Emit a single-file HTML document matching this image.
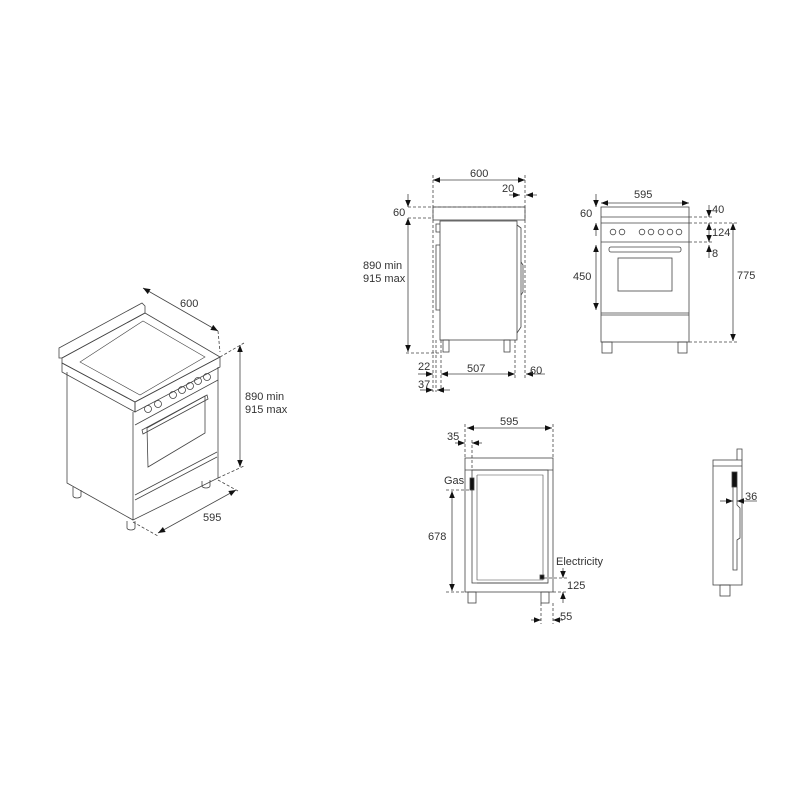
<!DOCTYPE html>
<html><head><style>html,body{margin:0;padding:0;background:#fff}svg{display:block}</style></head><body>
<svg width="800" height="800" viewBox="0 0 800 800" xmlns="http://www.w3.org/2000/svg" font-family="Liberation Sans, sans-serif" font-size="11" fill="none" stroke="#444" stroke-width="0.8">
<defs>
<marker id="a" viewBox="0 0 10 10" refX="10" refY="5" markerWidth="9" markerHeight="9" orient="auto-start-reverse"><path d="M0,1 L10,5 L0,9z" fill="#111" stroke="none"/></marker>
</defs>
<!-- Perspective -->
<g>
<polygon points="59,348 142,303 145,306 145,313 62,358 59,358" />
<polygon points="62,358 145,313 220,357 135,402 62,363"/>
<polygon points="62,363 135,402 135,412 62,372"/>
<polygon points="135,402 220,357 220,367 135,412"/>
<polygon points="80,362 143,321 205,357 140,395" stroke-width="0.6"/>
<polyline points="67,372 67,483 133,520"/>
<polyline points="133,412 133,520 218,478 218,367"/>
<line x1="135" y1="425" x2="218" y2="380"/>
<line x1="135" y1="495" x2="217" y2="452"/>
<line x1="135" y1="500" x2="217" y2="457"/>
<polygon points="147,428 205,396 205,433 148,467"/>
<polygon points="142,430 207,395 208,399 143,434"/>
<g>
<circle cx="148" cy="409" r="3.5"/><circle cx="158" cy="404" r="3.5"/><circle cx="173" cy="395" r="3.5"/><circle cx="182" cy="390" r="3.5"/><circle cx="190" cy="386" r="3.5"/><circle cx="198" cy="381" r="3.5"/><circle cx="207" cy="377" r="3.5"/>
</g>
<path d="M73,487 V496 A4,2 0 0 0 81,496 V490"/>
<path d="M127,521 V528 A4,2 0 0 0 135,528 V521"/>
<path d="M202,481 V486 A4,2 0 0 0 210,486 V480"/>
<line x1="143" y1="288" x2="218" y2="331" marker-start="url(#a)" marker-end="url(#a)"/>
<line x1="218" y1="331" x2="220" y2="352" stroke-dasharray="3,2"/>
<line x1="240" y1="345" x2="240" y2="467" marker-start="url(#a)" marker-end="url(#a)"/>
<line x1="220" y1="357" x2="244" y2="343" stroke-dasharray="3,2"/>
<line x1="218" y1="478" x2="244" y2="466" stroke-dasharray="3,2"/>
<line x1="158" y1="533" x2="236" y2="490" marker-start="url(#a)" marker-end="url(#a)"/>
<line x1="133" y1="522" x2="158" y2="536" stroke-dasharray="3,2"/>
<line x1="218" y1="480" x2="238" y2="491" stroke-dasharray="3,2"/>
</g>
<g fill="#333" stroke="none">
<text x="180" y="307">600</text>
<text x="245" y="400">890 min</text>
<text x="245" y="413">915 max</text>
<text x="203" y="521">595</text>
</g>
<!-- Side view -->
<g>
<line x1="433" y1="180" x2="525" y2="180" marker-start="url(#a)" marker-end="url(#a)"/>
<line x1="433" y1="175" x2="433" y2="392" stroke-dasharray="3,2"/>
<line x1="525" y1="175" x2="525" y2="378" stroke-dasharray="3,2"/>
<line x1="509" y1="195" x2="520" y2="195" marker-end="url(#a)"/>
<line x1="537" y1="195" x2="526" y2="195" marker-end="url(#a)"/>
<line x1="408" y1="207" x2="525" y2="207" stroke-dasharray="3,2"/>
<line x1="408" y1="218" x2="433" y2="218" stroke-dasharray="3,2"/>
<rect x="433" y="207" width="92" height="13"/>
<line x1="408" y1="194" x2="408" y2="207" marker-end="url(#a)"/>
<line x1="408" y1="218" x2="408" y2="352" marker-start="url(#a)" marker-end="url(#a)"/>
<line x1="406" y1="353" x2="440" y2="353" stroke-dasharray="3,2"/>
<rect x="440" y="221" width="77" height="119"/>
<polyline points="440,224 436,224 436,232 440,232"/>
<polyline points="440,245 436,245 436,310 440,310"/>
<polyline points="517,225 521,228 521,327 517,333"/>
<polyline points="521,262 523,265 523,292 521,295"/>
<rect x="443" y="340" width="6" height="12"/>
<rect x="504" y="340" width="6" height="12"/>
<line x1="436" y1="340" x2="436" y2="392" stroke-dasharray="3,2"/>
<line x1="441" y1="340" x2="441" y2="392" stroke-dasharray="3,2"/>
<line x1="515" y1="340" x2="515" y2="378" stroke-dasharray="3,2"/>
<line x1="441" y1="374" x2="515" y2="374" marker-start="url(#a)" marker-end="url(#a)"/>
<line x1="418" y1="374" x2="433" y2="374" marker-end="url(#a)"/>
<line x1="545" y1="374" x2="526" y2="374" marker-end="url(#a)"/>
<line x1="420" y1="390" x2="433" y2="390" marker-end="url(#a)"/>
<line x1="450" y1="390" x2="437" y2="390" marker-end="url(#a)"/>
</g>
<g fill="#333" stroke="none">
<text x="470" y="177">600</text>
<text x="502" y="192">20</text>
<text x="393" y="216">60</text>
<text x="363" y="269">890 min</text>
<text x="363" y="282">915 max</text>
<text x="418" y="370">22</text>
<text x="467" y="372">507</text>
<text x="530" y="374">60</text>
<text x="418" y="388">37</text>
</g>
<!-- Front view -->
<g>
<line x1="601" y1="203" x2="689" y2="203" marker-start="url(#a)" marker-end="url(#a)"/>
<rect x="601" y="207" width="88" height="135"/>
<line x1="601" y1="217" x2="689" y2="217"/>
<line x1="601" y1="223" x2="689" y2="223"/>
<line x1="601" y1="242" x2="689" y2="242"/>
<line x1="601" y1="313" x2="689" y2="313"/>
<line x1="601" y1="315" x2="689" y2="315"/>
<circle cx="613" cy="232" r="2.8"/><circle cx="622" cy="232" r="2.8"/><circle cx="642" cy="232" r="2.8"/><circle cx="651" cy="232" r="2.8"/><circle cx="661" cy="232" r="2.8"/><circle cx="670" cy="232" r="2.8"/><circle cx="679" cy="232" r="2.8"/>
<rect x="609" y="247" width="72" height="5" rx="2"/>
<rect x="618" y="258" width="54" height="33"/>
<rect x="602" y="342" width="10" height="11"/>
<rect x="678" y="342" width="9" height="11"/>
<line x1="596" y1="194" x2="596" y2="207" marker-end="url(#a)"/>
<line x1="596" y1="236" x2="596" y2="223" marker-end="url(#a)"/>
<line x1="596" y1="245" x2="596" y2="310" marker-start="url(#a)" marker-end="url(#a)"/>
<line x1="689" y1="217" x2="712" y2="217" stroke-dasharray="3,2"/>
<line x1="689" y1="223" x2="738" y2="223" stroke-dasharray="3,2"/>
<line x1="689" y1="242" x2="712" y2="242" stroke-dasharray="3,2"/>
<line x1="689" y1="342" x2="738" y2="342" stroke-dasharray="3,2"/>
<line x1="709" y1="205" x2="709" y2="217" marker-end="url(#a)"/>
<line x1="709" y1="223" x2="709" y2="242" marker-start="url(#a)" marker-end="url(#a)"/>
<line x1="709" y1="258" x2="709" y2="245" marker-end="url(#a)"/>
<line x1="733" y1="223" x2="733" y2="341" marker-start="url(#a)" marker-end="url(#a)"/>
</g>
<g fill="#333" stroke="none">
<text x="634" y="198">595</text>
<text x="580" y="217">60</text>
<text x="573" y="280">450</text>
<text x="712" y="213">40</text>
<text x="712" y="236">124</text>
<text x="712" y="257">8</text>
<text x="737" y="279">775</text>
</g>
<!-- Bottom view -->
<g>
<line x1="467" y1="428" x2="552" y2="428" marker-start="url(#a)" marker-end="url(#a)"/>
<line x1="465" y1="424" x2="465" y2="458" stroke-dasharray="3,2"/>
<line x1="553" y1="424" x2="553" y2="458" stroke-dasharray="3,2"/>
<line x1="472" y1="440" x2="472" y2="470" stroke-dasharray="3,2"/>
<line x1="455" y1="443" x2="465" y2="443" marker-end="url(#a)"/>
<line x1="482" y1="443" x2="472" y2="443" marker-end="url(#a)"/>
<rect x="465" y="458" width="88" height="134"/>
<line x1="465" y1="470" x2="553" y2="470"/>
<rect x="472" y="470" width="76" height="113"/>
<polyline points="477,475 543,475 543,580 477,580 477,475" stroke-width="0.6"/>
<line x1="477" y1="583" x2="548" y2="583"/>
<rect x="470" y="478" width="4" height="12" fill="#111"/>
<rect x="540" y="575" width="4" height="4" fill="#111"/>
<rect x="468" y="592" width="8" height="11"/>
<rect x="541" y="592" width="8" height="11"/>
<line x1="446" y1="490" x2="472" y2="490" stroke-dasharray="3,2"/>
<line x1="452" y1="491" x2="452" y2="591" marker-start="url(#a)" marker-end="url(#a)"/>
<line x1="446" y1="592" x2="465" y2="592" stroke-dasharray="3,2"/>
<line x1="544" y1="578" x2="568" y2="578" stroke-dasharray="3,2"/>
<line x1="553" y1="592" x2="568" y2="592" stroke-dasharray="3,2"/>
<line x1="563" y1="568" x2="563" y2="578" marker-end="url(#a)"/>
<line x1="563" y1="603" x2="563" y2="592" marker-end="url(#a)"/>
<line x1="541" y1="603" x2="541" y2="624" stroke-dasharray="3,2"/>
<line x1="553" y1="603" x2="553" y2="624" stroke-dasharray="3,2"/>
<line x1="531" y1="620" x2="541" y2="620" marker-end="url(#a)"/>
<line x1="563" y1="620" x2="553" y2="620" marker-end="url(#a)"/>
</g>
<g fill="#333" stroke="none">
<text x="500" y="425">595</text>
<text x="447" y="440">35</text>
<text x="444" y="484">Gas</text>
<text x="428" y="540">678</text>
<text x="556" y="565">Electricity</text>
<text x="567" y="589">125</text>
<text x="560" y="620">55</text>
</g>
<!-- Small side -->
<g>
<rect x="713" y="460" width="29" height="125"/>
<line x1="713" y1="466" x2="742" y2="466"/>
<polyline points="737,460 737,449 742,449 742,460"/>
<rect x="732" y="472" width="5" height="15" fill="#111"/>
<polyline points="733,487 733,570 737,570 737,540 740,538 740,508 737,505 737,487"/>
<rect x="720" y="585" width="10" height="11"/>
<line x1="720" y1="501" x2="733" y2="501" marker-end="url(#a)"/>
<line x1="757" y1="501" x2="737" y2="501" marker-end="url(#a)"/>
</g>
<g fill="#333" stroke="none"><text x="745" y="500">36</text></g>
</svg>
</body></html>
